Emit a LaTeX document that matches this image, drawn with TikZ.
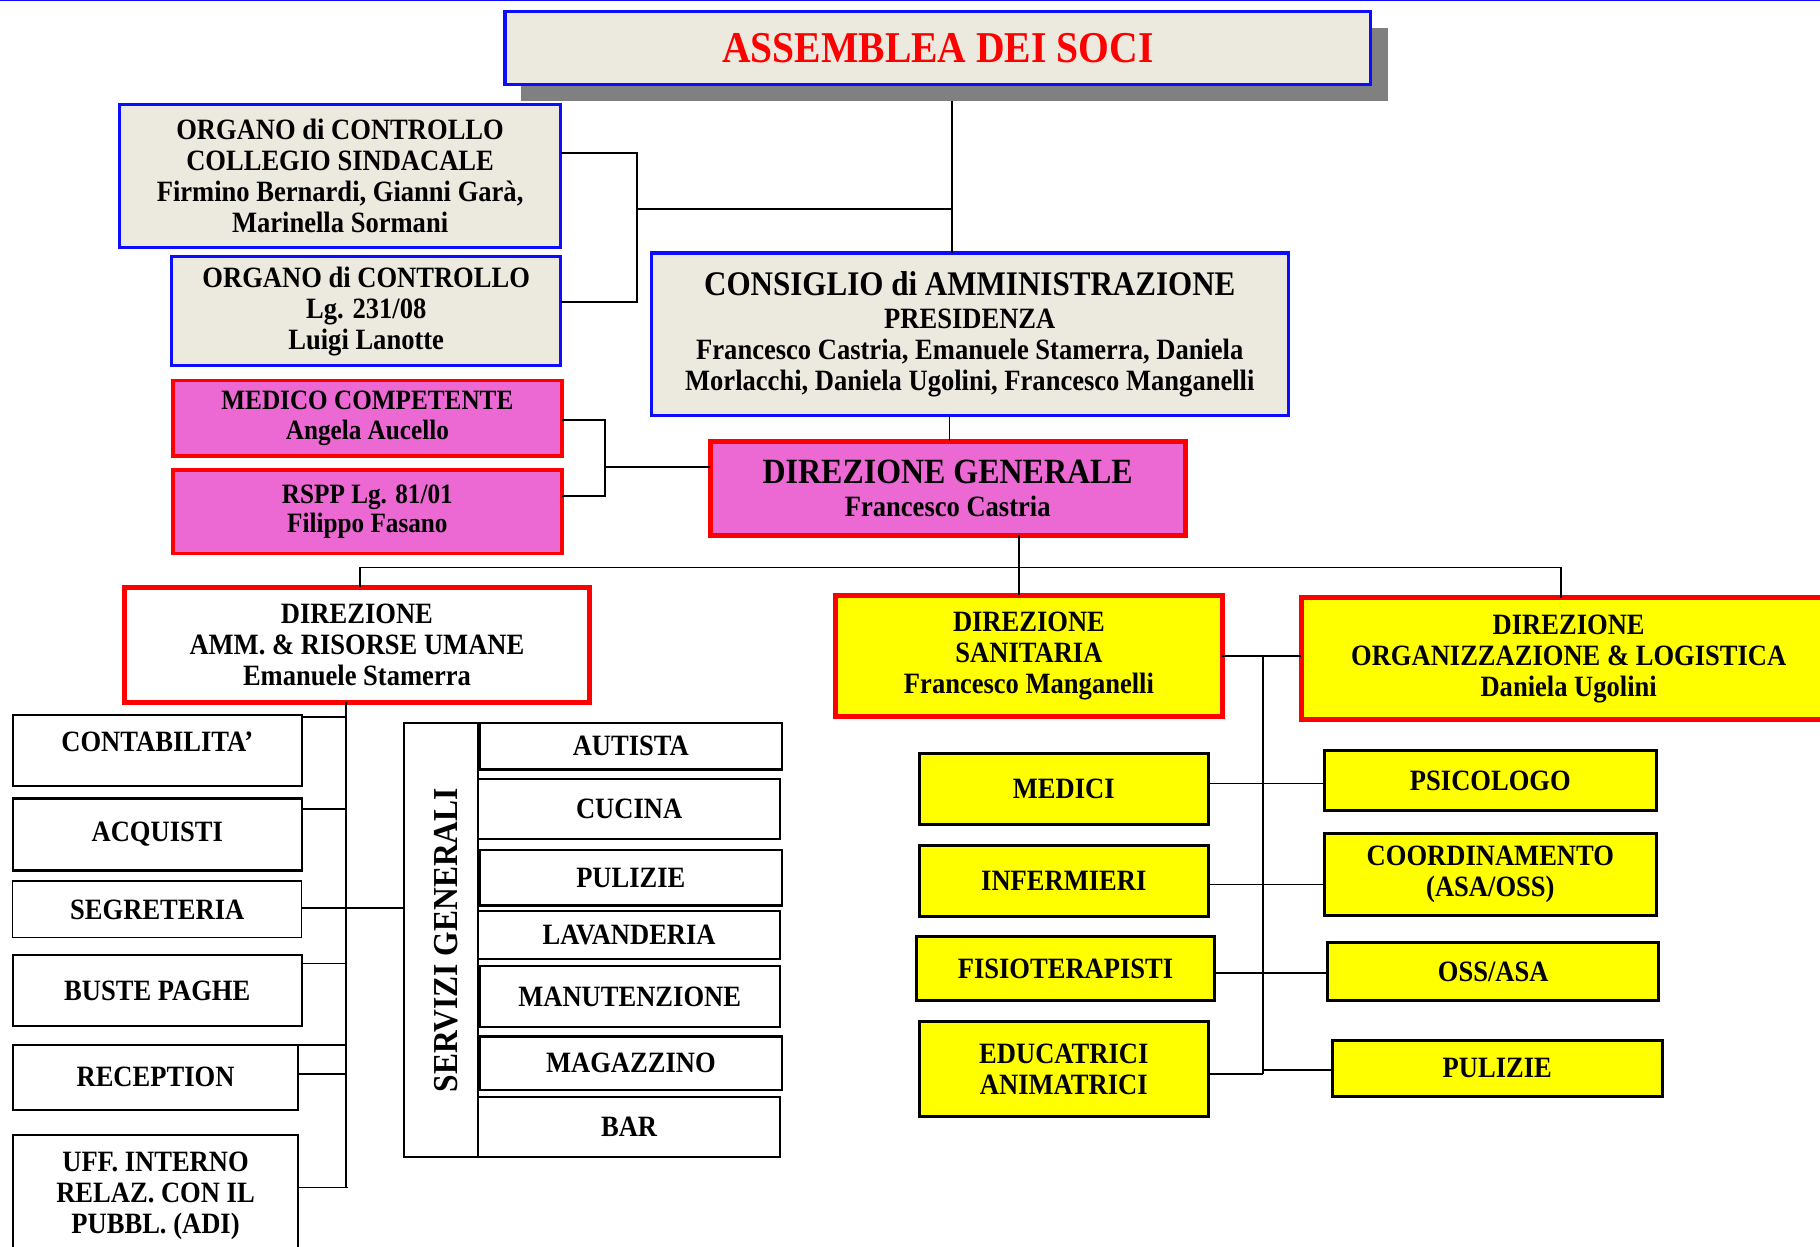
\documentclass[tikz,border=0pt]{standalone}
\usepackage{fontspec}
\setmainfont{Liberation Serif}[FakeStretch=0.9]
\definecolor{beige}{RGB}{236,233,223}
\definecolor{bblue}{RGB}{12,12,255}
\definecolor{rred}{RGB}{255,0,0}
\definecolor{mag}{RGB}{236,104,210}
\definecolor{yel}{RGB}{255,255,0}
\definecolor{shad}{RGB}{128,128,128}
\newcommand\fsbody{\fontsize{29.5}{31}\selectfont\bfseries}
\newcommand\fsmed{\fontsize{28}{29.5}\selectfont\bfseries}
\begin{document}
\begin{tikzpicture}[x=1.1607pt,y=-1.1607pt,
 rect/.style n args={4}{at={({(#1+#3)/2},{(#2+#4)/2})}, minimum width={(#3-#1)*1.1607pt}, minimum height={(#4-#2)*1.1607pt}},
 box/.style={inner sep=0pt, outer sep=0pt, align=center, font=\fsbody, text=black, anchor=center},
 bluebox/.style={box, draw=bblue, line width=3.2pt, fill=beige},
 magbox/.style={box, draw=rred, line width=3.5pt, fill=mag},
 yelred/.style={box, draw=rred, line width=5pt, fill=yel},
 yelbox/.style={box, draw=black, line width=3pt, fill=yel},
 whitebox/.style={box, draw=black, line width=2.3pt, fill=white},
 conn/.style={draw=black, line width=1.8pt},
]
\useasboundingbox (0,0) rectangle (1568,1074);
\clip (0,0) rectangle (1568,1074);
\fill[white] (0,0) rectangle (1568,1074);
\draw[bblue, line width=2.5pt] (0,0) -- (1568,0);

% top
\fill[shad] (449,24) rectangle (1196,87);
\node[bluebox, rect={435}{10}{1181}{73}, text=rred, font=\fontsize{44}{48}\selectfont\bfseries] (asm) {ASSEMBLEA DEI SOCI};
\node[bluebox, rect={103}{90}{483}{213}] (o1) {ORGANO di CONTROLLO\\COLLEGIO SINDACALE\\Firmino Bernardi, Gianni Garà,\\Marinella Sormani};
\node[bluebox, rect={148}{221}{483}{315}] (o2) {ORGANO di CONTROLLO\\Lg. 231/08\\Luigi Lanotte};
\node[bluebox, rect={561}{218}{1110}{358}] (cda) {{\fontsize{34.5}{38}\selectfont CONSIGLIO di AMMINISTRAZIONE}\\[2pt]PRESIDENZA\\Francesco Castria, Emanuele Stamerra, Daniela\\Morlacchi, Daniela Ugolini, Francesco Manganelli};
\node[magbox, rect={149}{328}{484}{393}, font=\fsmed] (med) {MEDICO COMPETENTE\\Angela Aucello};
\node[magbox, rect={149}{405}{484}{477}, font=\fsmed] (rspp) {RSPP Lg. 81/01\\Filippo Fasano};
\node[magbox, line width=5pt, rect={612}{380}{1021}{461}] (dg) {{\fontsize{35.5}{38}\selectfont DIREZIONE GENERALE}\\[2pt]Francesco Castria};

% directions
\node[box, draw=rred, line width=5pt, fill=white, rect={107}{506}{508}{605}] (amm) {DIREZIONE\\AMM. \& RISORSE UMANE\\Emanuele Stamerra};
\node[yelred, rect={720}{513}{1053}{617}] (san) {DIREZIONE\\SANITARIA\\Francesco Manganelli};
\node[yelred, rect={1121}{515}{1582}{620}] (org) {DIREZIONE\\ORGANIZZAZIONE \& LOGISTICA\\Daniela Ugolini};

% right column
\node[yelbox, rect={792}{649}{1041}{710}] (medici) {MEDICI};
\node[yelbox, rect={792}{728}{1041}{790}] (inf) {INFERMIERI};
\node[yelbox, rect={790}{807}{1046}{862}] (fisio) {FISIOTERAPISTI};
\node[yelbox, rect={792}{880}{1041}{962}] (edu) {EDUCATRICI\\ANIMATRICI};
\node[yelbox, rect={1141}{647}{1427}{698}] (psi) {PSICOLOGO};
\node[yelbox, rect={1141}{718}{1427}{789}] (coord) {COORDINAMENTO\\(ASA/OSS)};
\node[yelbox, rect={1144}{812}{1429}{862}] (oss) {OSS/ASA};
\node[yelbox, rect={1148}{896}{1432}{945}] (pul2) {PULIZIE};

% left column
\node[whitebox, rect={11}{616}{260}{677}, text depth=18pt] (cont) {CONTABILITA’};
\node[whitebox, rect={11}{688}{260}{750}] (acq) {ACQUISTI};
\node[whitebox, line width=1.2pt, rect={11}{759}{260}{808}] (seg) {SEGRETERIA};
\node[whitebox, rect={11}{823}{260}{884}] (bus) {BUSTE PAGHE};
\node[whitebox, rect={11}{900}{257}{956}] (rec) {RECEPTION};
\node[whitebox, rect={11}{978}{257}{1082}] (uff) {UFF. INTERNO\\RELAZ. CON IL\\PUBBL. (ADI)};

% servizi generali
\node[whitebox, rect={348}{623}{412}{997}] (sg) {};
\node[rotate=90, inner sep=0pt, font=\fontsize{35}{38}\selectfont\bfseries] (sgt) at ([xshift=5pt]sg.center) {SERVIZI GENERALI};
\node[whitebox, rect={413}{623}{674}{663}] (aut) {AUTISTA};
\node[whitebox, rect={412}{671}{672}{723}] (cuc) {CUCINA};
\node[whitebox, rect={413}{732}{674}{780}] (pul1) {PULIZIE};
\node[whitebox, rect={412}{785}{672}{826}] (lav) {LAVANDERIA};
\node[whitebox, rect={413}{832}{672}{885}] (man) {MANUTENZIONE};
\node[whitebox, rect={413}{893}{674}{939}] (mag) {MAGAZZINO};
\node[whitebox, rect={412}{945}{672}{997}] (bar) {BAR};

% connectors top
\coordinate (tA) at (820,87);
\coordinate (tB) at (820,180);
\coordinate (bA) at (549,132);
\coordinate (bB) at (549,260);
\coordinate (bM) at (549,180);
\draw[conn] (tA) -- (tA |- cda.north);
\draw[conn] (bM) -- (tB);
\draw[conn] (o1.east |- bA) -- (bA) -- (bB) -- (o2.east |- bB);
\coordinate (mA) at (521,362);
\coordinate (mB) at (521,427);
\coordinate (mM) at (521,402);
\draw[conn] (med.east |- mA) -- (mA) -- (mB) -- (rspp.east |- mB);
\draw[conn] (mM) -- (mM -| dg.west);
\coordinate (xc) at (818,0);
\draw[conn] (cda.south -| xc) -- (dg.north -| xc);
\coordinate (xd) at (878,0);
\draw[conn] (dg.south -| xd) -- (san.north -| xd);
\coordinate (hA) at (310,489);
\coordinate (hB) at (1345,489);
\draw[conn] (amm.north -| hA) -- (hA) -- (hB) -- (org.north -| hB);

% connectors right
\coordinate (vA) at (1088,565);
\coordinate (vB) at (1088,925);
\coordinate (r1) at (1088,675);
\coordinate (r2) at (1088,762);
\coordinate (r3) at (1088,838);
\coordinate (r4) at (1088,922);
\draw[conn] (san.east |- vA) -- (org.west |- vA);
\draw[conn] (vA) -- (vB);
\draw[conn] (medici.east |- r1) -- (psi.west |- r1);
\draw[conn] (inf.east |- r2) -- (coord.west |- r2);
\draw[conn] (fisio.east |- r3) -- (oss.west |- r3);
\draw[conn] (edu.east |- vB) -- (vB);
\draw[conn] (r4) -- (pul2.west |- r4);

% connectors left
\coordinate (lA) at (298,0);
\coordinate (lB) at (298,1023);
\coordinate (c1) at (298,618);
\coordinate (c2) at (298,697);
\coordinate (c3) at (298,782);
\coordinate (c4) at (298,830);
\coordinate (c5) at (298,900);
\coordinate (c6) at (298,925);
\coordinate (c7) at (300,1023);
\draw[conn] (amm.south -| lA) -- (lB);
\draw[conn] (cont.east |- c1) -- (c1);
\draw[conn] (acq.east |- c2) -- (c2);
\draw[conn] (seg.east |- c3) -- (sg.west |- c3);
\draw[conn] (bus.east |- c4) -- (c4);
\draw[conn] (rec.east |- c5) -- (c5);
\draw[conn] (rec.east |- c6) -- (c6);
\draw[conn] (uff.east |- c7) -- (c7);
\end{tikzpicture}
\end{document}
